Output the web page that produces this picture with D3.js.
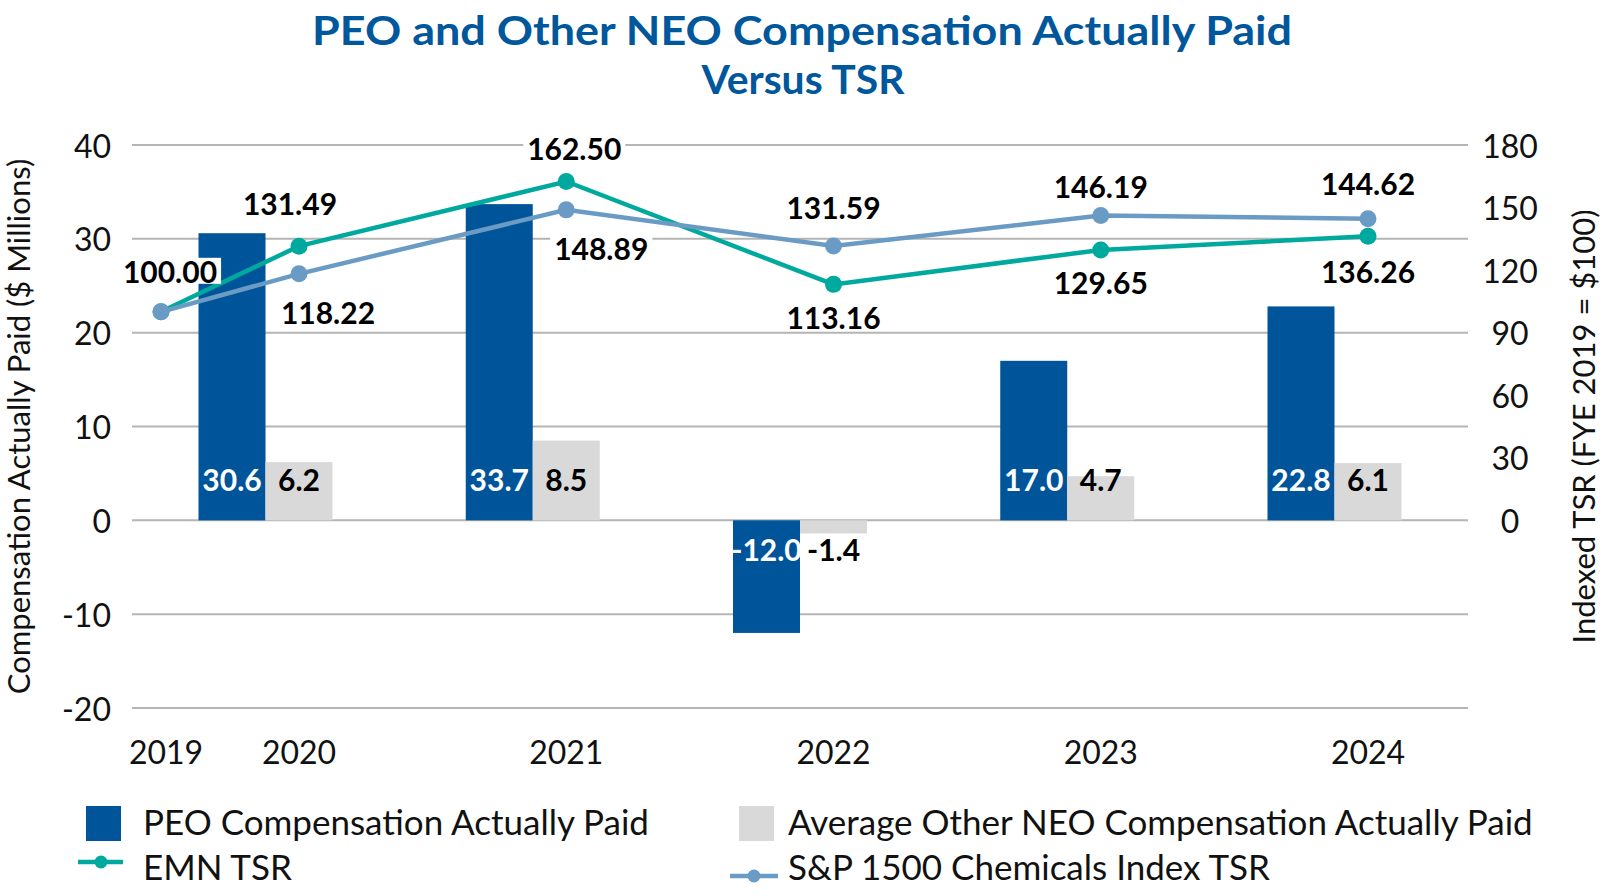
<!DOCTYPE html>
<html lang="en">
<head>
<meta charset="UTF-8">
<title>PEO and Other NEO Compensation Actually Paid Versus TSR</title>
<script src="https://d3js.org/d3.v7.min.js"></script>
<style>
  body { margin: 0; background: #fff; }
  text { font-family: Lato, "Noto Sans", sans-serif; }
</style>
</head>
<body>
<div id="chart"></div>
<script>
// data
const years = [2020, 2021, 2022, 2023, 2024];
const tsrYears = [2019, 2020, 2021, 2022, 2023, 2024];
const peoCap = [30.6, 33.7, -12.0, 17.0, 22.8];
const neoCap = [6.2, 8.5, -1.4, 4.7, 6.1];
const emnTsr = [100.00, 131.49, 162.50, 113.16, 129.65, 136.26];
const spTsr = [100.00, 118.22, 148.89, 131.59, 146.19, 144.62];
const leftTicks = [-20, -10, 0, 10, 20, 30, 40];
const rightTicks = [0, 30, 60, 90, 120, 150, 180];

const W = 1606, H = 896;
const blue = "#00559A", grey = "#D9D9D9", teal = "#00A99D", steel = "#6A9BC4";

const svg = d3.select("#chart").append("svg")
    .attr("width", W)
    .attr("height", H);

// scales
const x = d3.scaleLinear().domain([2019, 2020, 2024]).range([161, 299, 1368]);
const sub = d3.scaleBand().domain(["peo", "neo", "gap"]).range([-100.5, 100.5]);
const yL = d3.scaleLinear().domain([-20, 40]).range([708, 145]);
const yR = d3.scaleLinear().domain([0, 180]).range([yL(0), yL(40)]);

// title
const title = svg.append("g").attr("fill", "#00579C").attr("font-weight", 700)
    .attr("text-anchor", "middle").style("font-size", "40px");
title.append("text").attr("x", 802).attr("y", 45)
    .attr("textLength", 980).attr("lengthAdjust", "spacingAndGlyphs")
    .text("PEO and Other NEO Compensation Actually Paid");
title.append("text").attr("x", 803).attr("y", 94)
    .attr("textLength", 203).attr("lengthAdjust", "spacingAndGlyphs")
    .text("Versus TSR");

// gridlines
svg.append("g").selectAll("line").data(leftTicks).join("line")
    .attr("x1", 132).attr("x2", 1468)
    .attr("y1", d => yL(d)).attr("y2", d => yL(d))
    .attr("stroke", "#B5B5B5").attr("stroke-width", 2);

// left axis labels
svg.append("g").selectAll("text").data(leftTicks).join("text")
    .attr("x", 111).attr("y", d => yL(d))
    .attr("text-anchor", "end").attr("dominant-baseline", "central")
    .style("font-size", "32px").attr("fill", "#111")
    .text(d => d);

// right axis labels
svg.append("g").selectAll("text").data(rightTicks).join("text")
    .attr("x", 1510).attr("y", d => yR(d))
    .attr("text-anchor", "middle").attr("dominant-baseline", "central")
    .style("font-size", "32px").attr("fill", "#111")
    .text(d => d);

// axis titles
svg.append("text")
    .attr("transform", `translate(18,${(yL(-20) + yL(40)) / 2}) rotate(-90)`)
    .attr("text-anchor", "middle").attr("dominant-baseline", "central")
    .style("font-size", "31px").attr("fill", "#111")
    .text("Compensation Actually Paid ($ Millions)");
svg.append("text")
    .attr("transform", `translate(1583,${(yL(-20) + yL(40)) / 2}) rotate(-90)`)
    .attr("text-anchor", "middle").attr("dominant-baseline", "central")
    .style("font-size", "31px").attr("fill", "#111")
    .text("Indexed TSR (FYE 2019 = $100)");

// x labels
svg.append("g").selectAll("text").data(tsrYears).join("text")
    .attr("x", d => x(d) + (d === 2019 ? 5 : 0)).attr("y", 751)
    .attr("text-anchor", "middle").attr("dominant-baseline", "central")
    .style("font-size", "32px").attr("fill", "#111")
    .text(d => d);

// bars
const barData = years.map((yr, i) => ({ yr, peo: peoCap[i], neo: neoCap[i] }));
const groups = svg.append("g").selectAll("g").data(barData).join("g")
    .attr("transform", d => `translate(${x(d.yr)},0)`);

[["peo", blue], ["neo", grey]].forEach(([key, col]) => {
    groups.append("rect")
        .attr("x", sub(key))
        .attr("width", sub.bandwidth())
        .attr("y", d => yL(Math.max(0, d[key])))
        .attr("height", d => Math.abs(yL(d[key]) - yL(0)))
        .attr("fill", col);
});

["peo", "neo"].forEach(key => {
    groups.append("text")
        .attr("x", sub(key) + sub.bandwidth() / 2)
        .attr("y", d => d[key] >= 0 ? yL(0) - 41 : yL(0) + 29)
        .attr("text-anchor", "middle").attr("dominant-baseline", "central")
        .attr("font-weight", 700).style("font-size", "30px")
        .attr("fill", key === "peo" ? "#fff" : "#000")
        .text(d => d[key].toFixed(1));
});

// lines
const line = d3.line().x(d => x(d[0])).y(d => yR(d[1]));
const series = [
    { vals: emnTsr, col: teal },
    { vals: spTsr, col: steel }
];
series.forEach(s => {
    const pts = tsrYears.map((yr, i) => [yr, s.vals[i]]);
    svg.append("path").datum(pts).attr("d", line)
        .attr("fill", "none").attr("stroke", s.col).attr("stroke-width", 4.5);
    svg.append("g").selectAll("circle").data(pts).join("circle")
        .attr("cx", d => x(d[0])).attr("cy", d => yR(d[1])).attr("r", 8.5)
        .attr("fill", s.col);
});

// TSR data labels (placement offsets only)
const emnOff = [[9, -41], [-9, -43], [8, -33], [0, 33], [0, 32], [0, 35]];
const spOff = [null, [29, 38], [35, 38], [0, -39], [0, -30], [0, -36]];
const labelLayer = svg.append("g");
function addLabel(yr, v, off) {
    if (!off) return;
    const g = labelLayer.append("g");
    const cx = x(yr) + off[0], cy = yR(v) + off[1];
    const t = g.append("text")
        .attr("x", cx).attr("y", cy)
        .attr("text-anchor", "middle").attr("dominant-baseline", "central")
        .attr("font-weight", 700).style("font-size", "30px").attr("fill", "#000")
        .text(v.toFixed(2));
    const b = t.node().getBBox();
    g.insert("rect", "text")
        .attr("x", b.x - 4).attr("y", cy - 13)
        .attr("width", b.width + 8).attr("height", 26)
        .attr("fill", "#fff");
}
tsrYears.forEach((yr, i) => {
    addLabel(yr, emnTsr[i], emnOff[i]);
    addLabel(yr, spTsr[i], spOff[i]);
});

// legend
const leg = svg.append("g").style("font-size", "35px").attr("fill", "#111");
leg.append("rect").attr("x", 86).attr("y", 806).attr("width", 35).attr("height", 35).attr("fill", blue);
leg.append("text").attr("x", 143).attr("y", 821).attr("dominant-baseline", "central")
    .text("PEO Compensation Actually Paid");
leg.append("rect").attr("x", 739).attr("y", 806).attr("width", 35).attr("height", 35).attr("fill", grey);
leg.append("text").attr("x", 788).attr("y", 821).attr("dominant-baseline", "central")
    .text("Average Other NEO Compensation Actually Paid");
leg.append("line").attr("x1", 78).attr("x2", 123).attr("y1", 862).attr("y2", 862)
    .attr("stroke", teal).attr("stroke-width", 4.5);
leg.append("circle").attr("cx", 101).attr("cy", 862).attr("r", 6.5).attr("fill", teal);
leg.append("text").attr("x", 143).attr("y", 866).attr("dominant-baseline", "central")
    .text("EMN TSR");
leg.append("line").attr("x1", 730).attr("x2", 778).attr("y1", 876).attr("y2", 876)
    .attr("stroke", steel).attr("stroke-width", 4.5);
leg.append("circle").attr("cx", 754).attr("cy", 876).attr("r", 6.5).attr("fill", steel);
leg.append("text").attr("x", 788).attr("y", 866).attr("dominant-baseline", "central")
    .text("S&P 1500 Chemicals Index TSR");
</script>
</body>
</html>
